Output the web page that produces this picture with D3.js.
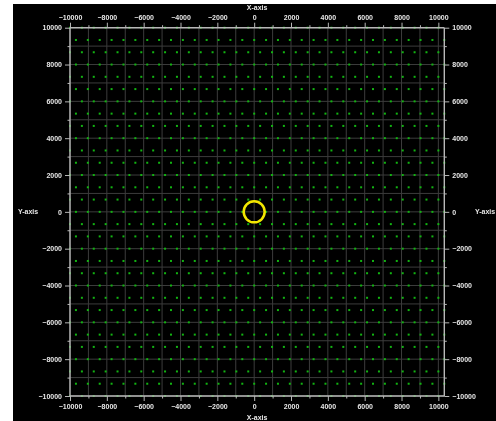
<!DOCTYPE html>
<html>
<head>
<meta charset="utf-8">
<script src="https://cdn.jsdelivr.net/npm/d3@7/dist/d3.min.js"></script>
<style>
  html, body { margin: 0; padding: 0; background: #ffffff; }
  svg { display: block; }
  text { font-family: "Liberation Sans", Arial, sans-serif; font-weight: bold; }
  .labels { opacity: 0.999; will-change: opacity; }
</style>
</head>
<body>
<svg id="chart" width="496" height="421"></svg>
<script>
// Labelled ticks (every 2000) and unlabelled minor ticks (odd thousands)
const majorTicks = [-10000, -8000, -6000, -4000, -2000, 0, 2000, 4000, 6000, 8000, 10000];
const minorTicks = [-9000, -7000, -5000, -3000, -1000, 1000, 3000, 5000, 7000, 9000];
// Grid lines every 1000
const gridValues = [-10000, -9000, -8000, -7000, -6000, -5000, -4000, -3000, -2000, -1000, 0,
  1000, 2000, 3000, 4000, 5000, 6000, 7000, 8000, 9000, 10000];

// Point lattice: rows alternate between two column sets
const rowY = [10000, 9333.33, 8666.67, 8000, 7333.33, 6666.67, 6000, 5333.33, 4666.67, 4000,
  3333.33, 2666.67, 2000, 1333.33, 666.67, 0, -666.67, -1333.33, -2000, -2666.67, -3333.33,
  -4000, -4666.67, -5333.33, -6000, -6666.67, -7333.33, -8000, -8666.67, -9333.33, -10000];
const colsEven = [-10000, -9354.84, -8709.68, -8064.52, -7419.35, -6774.19, -6129.03, -5483.87,
  -4838.71, -4193.55, -3548.39, -2903.23, -2258.06, -1612.90, -967.74, -322.58, 322.58, 967.74,
  1612.90, 2258.06, 2903.23, 3548.39, 4193.55, 4838.71, 5483.87, 6129.03, 6774.19, 7419.35,
  8064.52, 8709.68, 9354.84, 10000];
const colsOdd = [-9677.42, -9032.26, -8387.10, -7741.94, -7096.77, -6451.61, -5806.45, -5161.29,
  -4516.13, -3870.97, -3225.81, -2580.65, -1935.48, -1290.32, -645.16, 0, 645.16, 1290.32,
  1935.48, 2580.65, 3225.81, 3870.97, 4516.13, 5161.29, 5806.45, 6451.61, 7096.77, 7741.94,
  8387.10, 9032.26, 9677.42, 10322.58];

// Highlighted marker position
const marker = { x: 0, y: 0, r: 570 };

const xDomain = [-10000, 10322.58];
const yDomain = [-10000, 10000];

const svg = d3.select("#chart");
const W = 496, H = 421;
const pLeft = 70, pRight = 444.3, pTop = 27.7, pBottom = 396;

const x = d3.scaleLinear().domain(xDomain).range([pLeft, pRight]);
const y = d3.scaleLinear().domain(yDomain).range([pBottom, pTop]);

// Black panel
svg.append("rect").attr("x", 13).attr("y", 4).attr("width", W - 13).attr("height", H - 4)
  .attr("fill", "#000000");

// Grid
const grid = svg.append("g").attr("stroke", "#3c3c3c").attr("stroke-width", 1);
grid.selectAll("line.v").data(gridValues).join("line").attr("class", "v")
  .attr("x1", d => x(d)).attr("x2", d => x(d)).attr("y1", pTop).attr("y2", pBottom);
grid.selectAll("line.h").data(gridValues).join("line").attr("class", "h")
  .attr("y1", d => y(d)).attr("y2", d => y(d)).attr("x1", pLeft).attr("x2", pRight);

// Lattice points
const points = [];
rowY.forEach((yy, i) => {
  (i % 2 === 0 ? colsEven : colsOdd).forEach(xx => {
    if (!(xx === marker.x && yy === marker.y)) points.push([xx, yy]);
  });
});
svg.append("g").selectAll("rect").data(points).join("rect")
  .attr("x", d => x(d[0]) - 1).attr("y", d => y(d[1]) - 1)
  .attr("width", 2).attr("height", 2)
  .attr("fill", "#12b412");

// Axes
const fmt = d3.format("d");
function styleAxis(g) {
  g.select(".domain").remove();
  g.selectAll(".tick line").attr("stroke", "#b8b8b8").attr("stroke-width", 1);
  g.selectAll(".tick text").attr("fill", "#e8e8e8").style("font-size", "7px")
    .style("font-family", "'Liberation Sans', Arial, sans-serif").style("font-weight", "bold");
}

const axes = [
  { gen: d3.axisTop(x), t: `translate(0,${pTop})` },
  { gen: d3.axisBottom(x), t: `translate(0,${pBottom})` },
  { gen: d3.axisLeft(y), t: `translate(${pLeft},0)` },
  { gen: d3.axisRight(y), t: `translate(${pRight},0)` }
];
axes.forEach(a => {
  svg.append("g").attr("class", "labels").attr("transform", a.t)
    .call(a.gen.tickValues(majorTicks).tickFormat(fmt).tickSize(5).tickPadding(3))
    .call(styleAxis);
  svg.append("g").attr("transform", a.t)
    .call(a.gen.tickValues(minorTicks).tickFormat("").tickSize(2.5))
    .call(styleAxis);
});

// Frame lines
const frame = svg.append("g").attr("stroke", "#b8b8b8").attr("stroke-width", 1.4);
frame.append("line").attr("x1", pLeft).attr("x2", pRight).attr("y1", pTop).attr("y2", pTop);
frame.append("line").attr("x1", pLeft).attr("x2", pRight).attr("y1", pBottom).attr("y2", pBottom);
frame.append("line").attr("x1", pLeft).attr("x2", pLeft).attr("y1", pTop).attr("y2", pBottom);
frame.append("line").attr("x1", pRight).attr("x2", pRight).attr("y1", pTop).attr("y2", pBottom);

// Marker ring
svg.append("circle")
  .attr("cx", x(marker.x)).attr("cy", y(marker.y))
  .attr("r", x(marker.r) - x(0))
  .attr("fill", "none").attr("stroke", "#f2e600").attr("stroke-width", 2.5);

// Axis titles
const titles = svg.append("g").attr("class", "labels").attr("fill", "#e8e8e8").style("font-size", "7px");
titles.append("text").attr("x", (pLeft + pRight) / 2).attr("y", 10).attr("text-anchor", "middle").text("X-axis");
titles.append("text").attr("x", (pLeft + pRight) / 2).attr("y", 420).attr("text-anchor", "middle").text("X-axis");
titles.append("text").attr("x", 28).attr("y", y(0) + 2.5).attr("text-anchor", "middle").text("Y-axis");
titles.append("text").attr("x", 485).attr("y", y(0) + 2.5).attr("text-anchor", "middle").text("Y-axis");
</script>
</body>
</html>
